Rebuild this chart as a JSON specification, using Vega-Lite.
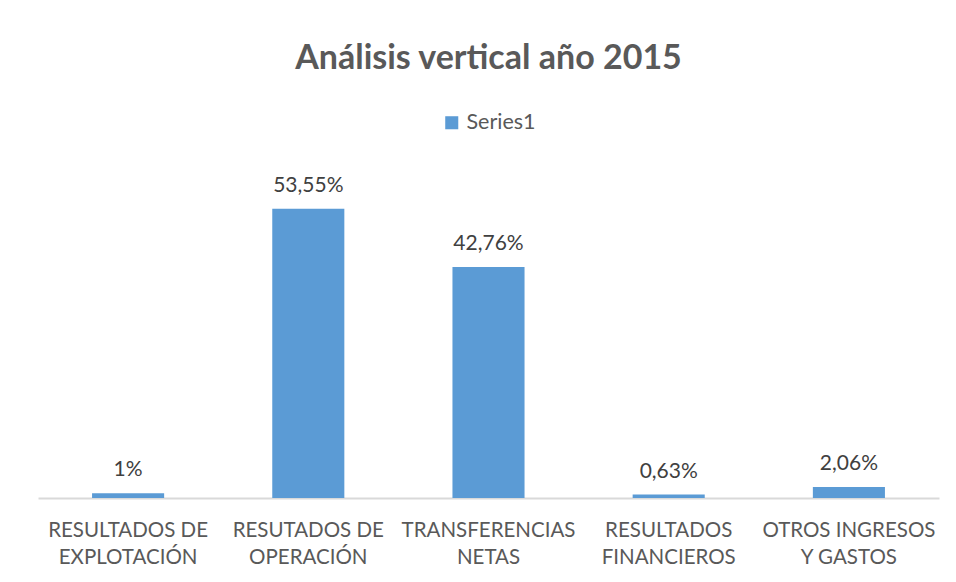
{
  "$schema": "https://vega.github.io/schema/vega-lite/v6.json",
  "autosize": "none",
  "width": 901,
  "height": 324,
  "padding": {"left": 38, "top": 174, "right": 17, "bottom": 84},
  "background": "white",
  "title": {
    "text": "Análisis vertical año 2015",
    "anchor": "middle",
    "font": "Lato",
    "fontSize": 34,
    "fontWeight": "bold",
    "color": "#595959",
    "offset": 36
  },
  "data": {
    "values": [
      {"categoria": "RESULTADOS DE|EXPLOTACIÓN", "valor": 0.9, "etiqueta": "1%", "serie": "Series1"},
      {"categoria": "RESUTADOS DE|OPERACIÓN", "valor": 53.55, "etiqueta": "53,55%", "serie": "Series1"},
      {"categoria": "TRANSFERENCIAS|NETAS", "valor": 42.76, "etiqueta": "42,76%", "serie": "Series1"},
      {"categoria": "RESULTADOS|FINANCIEROS", "valor": 0.63, "etiqueta": "0,63%", "serie": "Series1"},
      {"categoria": "OTROS INGRESOS|Y GASTOS", "valor": 2.06, "etiqueta": "2,06%", "serie": "Series1"}
    ]
  },
  "encoding": {
    "x": {
      "field": "categoria",
      "type": "nominal",
      "sort": null,
      "scale": {"paddingInner": 0.6, "paddingOuter": 0.3},
      "axis": {
        "title": null,
        "labelAngle": 0,
        "labelExpr": "split(datum.label, '|')",
        "labelFont": "Lato",
        "labelFontSize": 20.5,
        "labelColor": "#595959",
        "labelLineHeight": 27,
        "labelPadding": 22,
        "labelBaseline": "top",
        "labelLimit": 300,
        "ticks": false,
        "domainColor": "#D9D9D9",
        "domainWidth": 2
      }
    },
    "y": {
      "field": "valor",
      "type": "quantitative",
      "scale": {"domain": [0, 60], "nice": false},
      "axis": null
    }
  },
  "layer": [
    {
      "mark": {"type": "bar"},
      "encoding": {
        "color": {
          "field": "serie",
          "type": "nominal",
          "scale": {"range": ["#5B9BD5"]},
          "legend": {
            "title": null,
            "orient": "top",
            "symbolType": "square",
            "symbolSize": 170,
            "symbolStrokeWidth": 0,
            "labelFont": "Lato",
            "labelFontSize": 21.5,
            "labelColor": "#595959",
            "offset": 40
          }
        }
      }
    },
    {
      "mark": {
        "type": "text",
        "baseline": "alphabetic",
        "dy": -17,
        "font": "Lato",
        "fontSize": 21,
        "color": "#404040"
      },
      "encoding": {
        "text": {"field": "etiqueta"}
      }
    }
  ],
  "config": {
    "view": {"stroke": null},
    "legend": {"layout": {"top": {"anchor": "middle"}}}
  }
}
